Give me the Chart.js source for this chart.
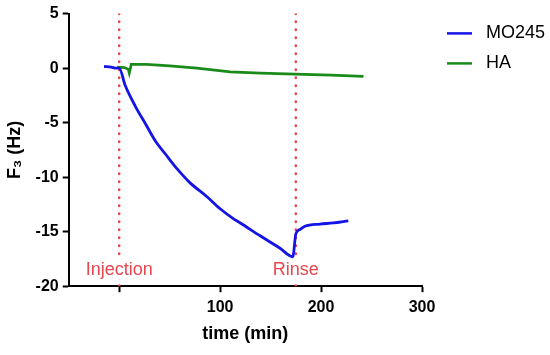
<!DOCTYPE html>
<html>
<head>
<meta charset="utf-8">
<script src="https://cdn.jsdelivr.net/npm/chart.js@4/dist/chart.umd.min.js"></script>
<style>
  html, body { margin: 0; padding: 0; background: #fff; }
  #wrap { width: 550px; height: 355px; }
</style>
</head>
<body>
<div id="wrap"><canvas id="chart" width="550" height="355"></canvas></div>
<script>
// values (time in min, F3 in Hz)
const mo245Time = [-15, -8, -3, 0, 6, 16, 26, 36, 46, 57, 70, 87, 100, 113, 120, 140, 159, 172, 175, 179, 184, 199, 212, 227];
const mo245F3 = [0.15, 0.1, 0.0, 0.0, -1.6, -3.5, -5.1, -6.7, -7.9, -9.2, -10.5, -11.8, -12.9, -13.8, -14.2, -15.4, -16.5, -17.3, -15.2, -14.8, -14.5, -14.3, -14.2, -14.0];
const haTime = [-2, 5, 9, 10, 12, 27, 50, 77, 110, 140, 174, 210, 242];
const haF3 = [0.1, 0.05, -0.1, -0.45, 0.35, 0.35, 0.2, 0.0, -0.35, -0.45, -0.55, -0.65, -0.75];
const eventTimes = [0, 175];
const eventLabels = ["Injection", "Rinse"];
const xTicks = [0, 100, 200, 300];

const FONT = "Arial, 'Liberation Sans', sans-serif";
const RED = "#e8474f";

const toPoints = (xs, ys) => xs.map((x, i) => ({x: x, y: ys[i]}));

const eventSets = eventTimes.map((t) => ({
  label: "event",
  data: [{x: t, y: 5}, {x: t, y: -20}],
  borderColor: RED,
  borderWidth: 2.5,
  borderDash: [0.5, 7.5],
  borderCapStyle: "round",
  pointRadius: 0,
  order: 5
}));

const eventText = {
  id: "eventText",
  beforeDraw(chart) {
    // legend sits a bit further right of the plot than chart.js puts it
    const lg = chart.legend;
    lg.left = chart.chartArea.right + 13;
    lg.right = chart.width;
    lg.width = lg.right - lg.left;
  },
  afterDatasetsDraw(chart) {
    const ctx = chart.ctx;
    const xs = chart.scales.x;
    ctx.save();
    ctx.font = "18px " + FONT;
    ctx.textAlign = "center";
    ctx.textBaseline = "alphabetic";
    eventTimes.forEach((t, i) => {
      const px = xs.getPixelForValue(t);
      const w = ctx.measureText(eventLabels[i]).width;
      ctx.fillStyle = "#fff";
      ctx.fillRect(px - w / 2 - 1, 259, w + 2, 20);
      ctx.fillStyle = RED;
      ctx.fillText(eventLabels[i], px, 275);
    });
    ctx.restore();
  }
};

new Chart(document.getElementById("chart").getContext("2d"), {
  type: "line",
  data: {
    datasets: [{
      label: "MO245",
      data: toPoints(mo245Time, mo245F3),
      borderColor: "#1414e6",
      backgroundColor: "#1414e6",
      borderWidth: 2.8,
      pointRadius: 0,
      cubicInterpolationMode: "monotone",
      order: 1
    }, {
      label: "HA",
      data: toPoints(haTime, haF3),
      borderColor: "#1a8a1a",
      backgroundColor: "#1a8a1a",
      borderWidth: 2.8,
      pointRadius: 0,
      tension: 0,
      order: 2
    }].concat(eventSets)
  },
  options: {
    responsive: false,
    animation: false,
    layout: {
      padding: {top: 4, bottom: 6, left: 0, right: 0}
    },
    plugins: {
      tooltip: {enabled: false},
      legend: {
        position: "right",
        align: "start",
        title: {display: true, text: " ", font: {size: 2}, padding: 3},
        labels: {
          filter: (item) => item.datasetIndex < 2,
          generateLabels: (chart) => {
            const items = Chart.defaults.plugins.legend.labels.generateLabels(chart);
            items.forEach((it) => {
              it.lineWidth = 0;
              it.text = " " + it.text;
            });
            return items;
          },
          boxWidth: 25,
          boxHeight: 2.5,
          padding: 12,
          color: "#000",
          font: {family: FONT, size: 18}
        }
      }
    },
    scales: {
      x: {
        type: "linear",
        min: -50,
        max: 300,
        afterBuildTicks: (scale) => {
          scale.ticks = xTicks.map((v) => ({value: v}));
        },
        afterFit: (scale) => {
          scale.paddingRight = 128;
        },
        ticks: {
          color: "#000",
          font: {family: FONT, size: 16, weight: "bold"},
          padding: 6,
          maxRotation: 0,
          callback: (v) => v === 0 ? "" : v
        },
        grid: {
          drawOnChartArea: false,
          color: "#000",
          tickLength: 6,
          tickWidth: 2
        },
        border: {color: "#000", width: 2},
        title: {
          display: true,
          text: "time (min)",
          color: "#000",
          font: {family: FONT, size: 18, weight: "bold"},
          padding: {top: 0}
        }
      },
      y: {
        min: -20,
        max: 5,
        ticks: {
          stepSize: 5,
          color: "#000",
          font: {family: FONT, size: 16, weight: "bold"},
          padding: 4
        },
        grid: {
          drawOnChartArea: false,
          color: "#000",
          tickLength: 6,
          tickWidth: 2
        },
        border: {color: "#000", width: 2},
        title: {
          display: true,
          text: "F\u2083 (Hz)",
          color: "#000",
          font: {family: FONT, size: 18, weight: "bold"},
          padding: {bottom: 6}
        }
      }
    }
  },
  plugins: [eventText]
});
</script>
</body>
</html>
